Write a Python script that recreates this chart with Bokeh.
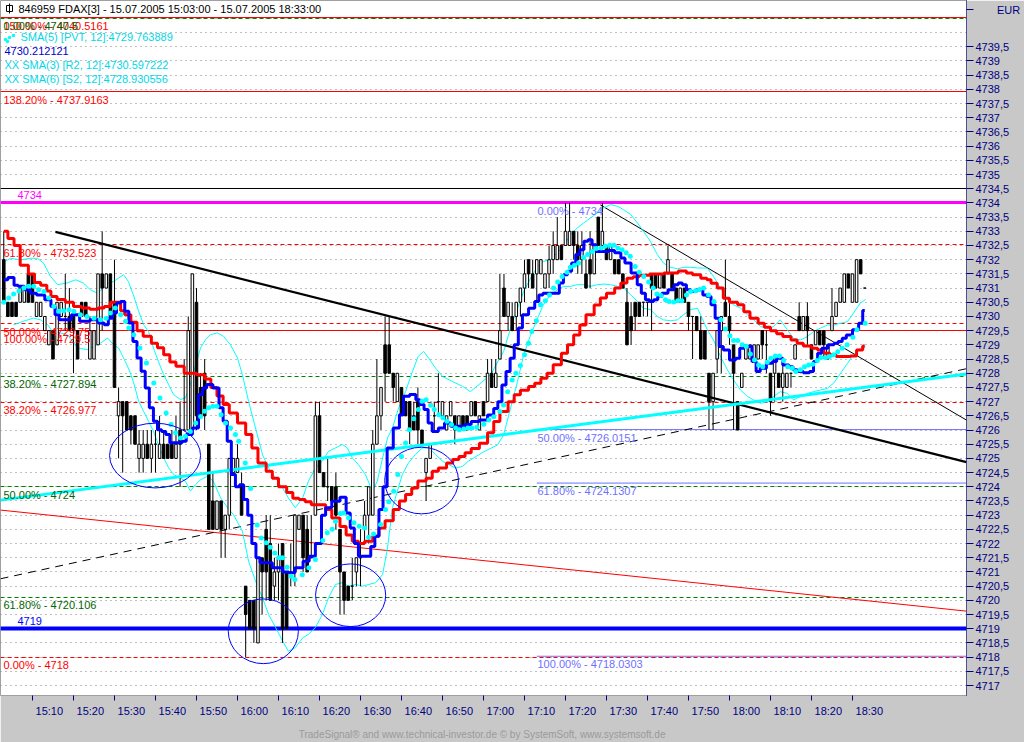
from bokeh.plotting import figure
from bokeh.models import Range1d, FixedTicker
from bokeh.core.properties import value
from bokeh.embed import file_html
from bokeh.resources import INLINE

FONT = value("Liberation Sans")

# ---------------- one-minute FDAX bars, bar 0 = 15:03 ----------------
bar_open = [
    4732, 4730.5, 4730.5, 4730.5, 4730.5, 4730.5, 4731.5, 4731.5, 4730, 4730,
    4729.5, 4729, 4729.5, 4729, 4730, 4730, 4730, 4730, 4729.5, 4730.5,
    4730.5, 4728.5, 4728.5, 4729, 4731.5, 4731, 4731.5, 4730.5, 4726.5, 4727,
    4727, 4726.5, 4726.5, 4725, 4725, 4725.5, 4725, 4725.5, 4725, 4725.5,
    4725.5, 4725.5, 4725, 4726, 4726, 4726, 4726, 4730.5, 4727.5, 4728,
    4725.5, 4723.5, 4722.5, 4723.5, 4722.5, 4723, 4724.5, 4724.5, 4724, 4720.5,
    4720, 4720, 4718.5, 4721.5, 4722.5, 4722, 4720.5, 4721, 4722, 4721,
    4721, 4721, 4722.5, 4723, 4722.5, 4721.5, 4723, 4726.5, 4724.5, 4724,
    4724, 4724, 4722.5, 4721, 4720.5, 4720.5, 4721, 4721.5, 4722.5, 4723,
    4723, 4725.5, 4726.5, 4729, 4729, 4728, 4727, 4727.5, 4727, 4727,
    4726.5, 4727, 4726, 4724.5, 4725, 4726.5, 4727, 4726.5, 4726, 4726.5,
    4726.5, 4726, 4726.5, 4726.5, 4726.5, 4727, 4726, 4727, 4727, 4728,
    4727.5, 4728.5, 4731, 4730, 4730, 4730, 4730.5, 4731, 4732, 4731.5,
    4731.5, 4731.5, 4731, 4731.5, 4732, 4732, 4732.5, 4732.5, 4732.5, 4733,
    4732.5, 4732, 4731.5, 4732, 4731.5, 4733.5, 4732.5, 4732.5, 4732, 4732,
    4732, 4731.5, 4730.5, 4730, 4730.5, 4730.5, 4730.5, 4730.5, 4731.5, 4731.5,
    4731, 4731.5, 4731.5, 4731.5, 4731, 4730.5, 4731, 4730.5, 4730, 4730,
    4729.5, 4729.5, 4728, 4727, 4728.5, 4729.5, 4730.5, 4730, 4729, 4727,
    4727.5, 4728.5, 4728.5, 4728.5, 4728.5, 4729.5, 4729, 4728, 4728, 4728,
    4727.5, 4727.5, 4728, 4728.5, 4730, 4729.5, 4730, 4729, 4729, 4729.5,
    4729.5, 4728.5, 4729.5, 4730, 4730.5, 4730.5, 4731.5, 4730.5, 4730.5, 4732,
    4731,
]
bar_high = [
    4733, 4730.5, 4730.5, 4730.5, 4731, 4731, 4731.5, 4731.5, 4730.5, 4730.5,
    4730, 4729.5, 4729.5, 4730.5, 4730.5, 4731.5, 4731, 4730, 4729.5, 4730.5,
    4730.5, 4730, 4729.5, 4731.5, 4733, 4731.5, 4731.5, 4732, 4727.5, 4727,
    4727, 4726.5, 4726.5, 4726, 4726, 4726, 4726, 4726, 4726.5, 4726,
    4725.5, 4726, 4726.5, 4727, 4728.5, 4730, 4731.5, 4731, 4728, 4728.5,
    4725.5, 4724.5, 4723.5, 4723.5, 4723, 4725, 4725, 4725.5, 4724.5, 4720.5,
    4720, 4720, 4721.5, 4721.5, 4723, 4723, 4721.5, 4722, 4722, 4721,
    4722, 4723, 4723, 4723, 4723, 4723, 4727, 4727, 4724.5, 4725,
    4724, 4724.5, 4722.5, 4721, 4720.5, 4721.5, 4721.5, 4722.5, 4723.5, 4724,
    4726, 4728.5, 4727.5, 4730, 4730, 4728, 4728, 4727.5, 4727, 4727,
    4727, 4727.5, 4726, 4725, 4725.5, 4727, 4728, 4727, 4726.5, 4727,
    4726.5, 4726.5, 4726.5, 4726.5, 4727, 4727, 4726.5, 4727, 4728.5, 4728.5,
    4728.5, 4731.5, 4731.5, 4730.5, 4730.5, 4730.5, 4731, 4732, 4732, 4732,
    4732, 4732, 4731.5, 4732.5, 4733, 4733.5, 4732.5, 4734, 4734, 4733,
    4733, 4733, 4732, 4733, 4732.5, 4733.5, 4734, 4732.5, 4732.5, 4732,
    4732, 4731.5, 4731, 4730.5, 4730.5, 4730.5, 4730.5, 4730.5, 4731.5, 4731.5,
    4731.5, 4731.5, 4732.5, 4731.5, 4731, 4731, 4731, 4730.5, 4730, 4730,
    4730, 4729.5, 4728, 4728, 4729.5, 4730, 4732, 4730.5, 4729, 4727,
    4728, 4729, 4729, 4729, 4729, 4729.5, 4729.5, 4728, 4728.5, 4728,
    4728.5, 4728, 4728, 4729, 4730.5, 4730, 4730.5, 4729, 4729.5, 4729.5,
    4729.5, 4729, 4731, 4730.5, 4731, 4731.5, 4731.5, 4731.5, 4732, 4732,
    4731,
]
bar_low = [
    4730.5, 4730, 4730, 4730, 4730.5, 4730.5, 4730.5, 4730.5, 4730, 4730,
    4729.5, 4729, 4728.5, 4729, 4730, 4729.5, 4729.5, 4728, 4728.5, 4730,
    4730, 4728.5, 4728.5, 4729, 4729.5, 4731, 4730, 4727.5, 4725, 4724.5,
    4726, 4725.5, 4725.5, 4724.5, 4724.5, 4725, 4724.5, 4724.5, 4725, 4725,
    4725, 4725, 4725, 4724, 4726, 4726, 4726, 4726, 4726.5, 4726,
    4722.5, 4722.5, 4722.5, 4721.5, 4721.5, 4722.5, 4724.5, 4724.5, 4723, 4718,
    4719, 4718.5, 4718.5, 4719.5, 4720, 4720, 4720, 4720, 4718.5, 4719,
    4720.5, 4720.5, 4722.5, 4721, 4721, 4721.5, 4723, 4724.5, 4724, 4723.5,
    4723.5, 4722.5, 4719.5, 4719.5, 4720, 4720, 4720.5, 4720.5, 4722, 4722,
    4723, 4725.5, 4726, 4727, 4728, 4727, 4727, 4726.5, 4726.5, 4725.5,
    4726, 4725.5, 4725.5, 4723.5, 4725, 4726, 4726.5, 4726.5, 4726, 4726.5,
    4725.5, 4726, 4726, 4726, 4726.5, 4726.5, 4726, 4726.5, 4727, 4727.5,
    4727.5, 4728.5, 4730, 4729.5, 4729.5, 4729.5, 4730, 4730.5, 4731, 4731,
    4730.5, 4731.5, 4731, 4731, 4731.5, 4732, 4732, 4732.5, 4732.5, 4732,
    4731.5, 4731.5, 4731, 4731, 4731.5, 4732.5, 4732.5, 4732, 4732, 4731.5,
    4731.5, 4731, 4729, 4729, 4729.5, 4730, 4730, 4730, 4729.5, 4731,
    4731, 4731, 4731.5, 4731, 4730.5, 4730.5, 4730.5, 4729.5, 4728.5, 4729.5,
    4728.5, 4728.5, 4726, 4726, 4728, 4728, 4730, 4729, 4726, 4726,
    4727.5, 4728.5, 4728.5, 4728.5, 4728.5, 4728.5, 4728, 4726.5, 4727, 4727.5,
    4727, 4727.5, 4727.5, 4728.5, 4729.5, 4729.5, 4729, 4728.5, 4729, 4729,
    4728.5, 4728.5, 4729.5, 4730, 4730.5, 4730.5, 4731, 4730.5, 4730.5, 4731.5,
    4731,
]
bar_close = [
    4730.5, 4730, 4730, 4730, 4731, 4731, 4730.5, 4730.5, 4730.5, 4730.5,
    4730, 4729.5, 4728.5, 4730.5, 4730.5, 4730, 4729.5, 4729.5, 4728.5, 4730,
    4730, 4729.5, 4729.5, 4731.5, 4731, 4731.5, 4730, 4727.5, 4727, 4726.5,
    4726, 4726, 4725.5, 4725.5, 4725.5, 4725, 4725.5, 4725.5, 4725.5, 4725,
    4725, 4725, 4725.5, 4725.5, 4726, 4729.5, 4731.5, 4726.5, 4726.5, 4726.5,
    4722.5, 4722.5, 4723.5, 4722.5, 4723, 4725, 4725, 4725, 4723, 4719.5,
    4719, 4719, 4721.5, 4721, 4721, 4720, 4721, 4721.5, 4719, 4719,
    4721, 4723, 4723, 4721.5, 4721, 4721.5, 4726.5, 4724.5, 4724, 4724,
    4723.5, 4723, 4721, 4720, 4720, 4720.5, 4721.5, 4721.5, 4723, 4724,
    4725.5, 4726.5, 4727.5, 4728, 4728, 4727.5, 4728, 4726.5, 4726.5, 4726,
    4726, 4726, 4725.5, 4725, 4725.5, 4726.5, 4727, 4727, 4726.5, 4727,
    4726, 4726.5, 4726, 4726, 4727, 4726.5, 4726.5, 4726.5, 4728, 4727.5,
    4728, 4729.5, 4730, 4730.5, 4729.5, 4730.5, 4731, 4731.5, 4731.5, 4731,
    4732, 4732, 4731.5, 4732, 4732.5, 4732.5, 4732, 4733, 4733, 4732.5,
    4732, 4732.5, 4731, 4731.5, 4732.5, 4732.5, 4733, 4732, 4732.5, 4731.5,
    4731.5, 4731, 4729, 4729.5, 4730, 4730, 4730.5, 4730.5, 4731, 4731,
    4731.5, 4731, 4732, 4731, 4730.5, 4731, 4730.5, 4730, 4730, 4729.5,
    4728.5, 4728.5, 4727, 4728, 4729.5, 4730, 4730, 4729.5, 4728, 4726,
    4728, 4729, 4729, 4729, 4729, 4729, 4729, 4727, 4728.5, 4727.5,
    4728, 4728, 4728, 4729, 4729.5, 4730, 4729.5, 4728.5, 4729.5, 4729,
    4729, 4729, 4730, 4730.5, 4731, 4731.5, 4731, 4731.5, 4732, 4731.5,
    4731,
]

# ---------------- indicators (bar position, price) ----------------
ma_red_x = [0, 2, 3, 5, 7, 8, 10, 11, 12, 14, 16, 18, 20, 22, 24, 25, 27, 28, 29, 30,
            32, 33, 35, 37, 38, 40, 41, 43, 45, 46, 48, 50, 51, 53, 54, 56, 58, 60, 61, 63,
            65, 66, 68, 70, 71, 73, 74, 76, 78, 79, 81, 83, 84, 86, 87, 89, 91, 92, 94, 96,
            97, 99, 100, 102, 104, 105, 107, 109, 110, 112, 113, 115, 117, 119, 120, 122, 124, 125, 127, 129,
            130, 132, 133, 135, 137, 138, 140, 141, 143, 145, 146, 148, 150, 151, 153, 154, 156, 159, 163, 166,
            167, 169, 171, 172, 173, 175, 176, 178, 180, 181, 183, 185, 186, 188, 189, 191, 193, 194, 196, 198,
            199, 201, 202, 204, 206, 207, 209, 210]
ma_red_y = [4733.0, 4732.75, 4732.5, 4731.8, 4731.5, 4731.2, 4731.1, 4730.9, 4730.7, 4730.6,
            4730.5, 4730.35, 4730.3, 4730.25, 4730.3, 4730.35, 4730.5, 4730.5, 4730.2, 4730.06,
            4729.8, 4729.5, 4729.3, 4729.06, 4728.9, 4728.65, 4728.4, 4728.25, 4728.0, 4728.0,
            4727.95, 4727.8, 4727.5, 4727.2, 4726.9, 4726.6, 4726.25, 4725.84, 4725.37, 4724.84,
            4724.55, 4724.3, 4724.0, 4723.8, 4723.6, 4723.55, 4723.47, 4723.37, 4723.37, 4723.2,
            4722.9, 4722.6, 4722.3, 4722.08, 4722.0, 4722.08, 4722.26, 4722.55, 4722.8, 4723.2,
            4723.5, 4723.73, 4723.96, 4724.2, 4724.3, 4724.55, 4724.66, 4724.84, 4724.96, 4725.07,
            4725.2, 4725.35, 4725.53, 4725.9, 4726.3, 4726.65, 4727.0, 4727.24, 4727.4, 4727.53,
            4727.65, 4727.82, 4728.0, 4728.3, 4728.7, 4729.0, 4729.35, 4729.7, 4730.06, 4730.4,
            4730.65, 4730.82, 4731.0, 4731.18, 4731.35, 4731.4, 4731.45, 4731.5, 4731.53, 4731.6,
            4731.53, 4731.47, 4731.35, 4731.29, 4731.17, 4731.0, 4730.64, 4730.5, 4730.41, 4730.17,
            4729.94, 4729.76, 4729.62, 4729.5, 4729.39, 4729.29, 4729.17, 4729.06, 4728.96, 4728.88,
            4728.82, 4728.7, 4728.65, 4728.59, 4728.59, 4728.61, 4728.82, 4728.96]

ma_blue_x = [0, 2, 3, 4, 6, 7, 9, 11, 12, 13, 14, 16, 17, 18, 19, 20, 22, 24, 25, 26,
             27, 28, 29, 30, 31, 32, 33, 34, 35, 36, 37, 38, 39, 40, 41, 43, 44, 45, 47, 48,
             49, 50, 52, 53, 54, 55, 56, 57, 58, 59, 60, 61, 62, 63, 65, 66, 67, 69, 70, 72,
             74, 75, 77, 78, 79, 81, 83, 84, 85, 86, 87, 89, 90, 91, 92, 93, 94, 96, 97, 98,
             100, 101, 102, 103, 104, 105, 107, 108, 110, 112, 113, 115, 117, 119, 120, 121, 122, 123, 124, 125,
             126, 127, 129, 130, 131, 132, 135, 136, 137, 138, 139, 140, 141, 142, 143, 144, 145, 147, 148, 150,
             151, 152, 154, 155, 156, 157, 158, 159, 160, 161, 163, 164, 165, 166, 167, 168, 170, 171, 172, 173,
             174, 175, 176, 178, 179, 180, 181, 182, 183, 184, 185, 187, 188, 189, 191, 192, 193, 194, 196, 197,
             198, 199, 200, 202, 203, 204, 205, 206, 208, 209, 210]
ma_blue_y = [4731.29, 4731.37, 4731.1, 4731.06, 4730.94, 4730.82, 4730.76, 4730.59, 4730.35, 4730.06,
             4729.88, 4729.88, 4730.06, 4730.06, 4729.83, 4729.83, 4729.88, 4729.77, 4729.71, 4729.94,
             4730.12, 4730.47, 4730.53, 4730.18, 4729.77, 4729.12, 4728.54, 4728.07, 4727.48, 4726.78,
             4726.31, 4726.01, 4725.95, 4725.84, 4725.55, 4725.55, 4725.6, 4725.84, 4726.07, 4727.25,
             4727.48, 4727.6, 4727.48, 4726.78, 4726.31, 4725.6, 4724.43, 4724.0, 4724.07, 4723.55,
             4723.0, 4722.0, 4721.5, 4721.32, 4721.32, 4721.15, 4721.15, 4721.0, 4720.97, 4721.15,
             4721.38, 4721.55, 4722.0, 4723.0, 4723.26, 4723.49, 4723.63, 4723.08, 4722.55, 4722.0,
             4721.55, 4721.55, 4721.9, 4722.26, 4723.2, 4724.0, 4725.37, 4726.07, 4726.54, 4727.19,
             4727.25, 4727.07, 4726.9, 4726.72, 4726.25, 4725.95, 4726.07, 4726.25, 4726.13, 4726.13,
             4726.19, 4726.3, 4726.35, 4726.53, 4726.76, 4727.0, 4727.59, 4728.06, 4728.53, 4729.0,
             4729.59, 4730.06, 4730.29, 4730.53, 4730.76, 4730.82, 4730.82, 4731.18, 4731.47, 4731.59,
             4731.88, 4732.18, 4732.35, 4732.65, 4732.7, 4732.53, 4732.29, 4732.29, 4732.32, 4732.24,
             4732.06, 4731.88, 4731.53, 4731.12, 4730.82, 4730.59, 4730.53, 4730.59, 4730.7, 4730.82,
             4730.94, 4731.12, 4731.18, 4731.12, 4730.94, 4730.88, 4730.94, 4730.76, 4730.7, 4730.41,
             4729.94, 4728.94, 4728.82, 4728.47, 4728.53, 4728.88, 4728.94, 4728.94, 4728.41, 4728.06,
             4728.18, 4728.35, 4728.41, 4728.53, 4728.29, 4728.23, 4728.12, 4728.06, 4728.02, 4728.06,
             4728.41, 4728.7, 4728.88, 4729.0, 4729.06, 4729.12, 4729.23, 4729.35, 4729.53, 4729.76,
             4730.21]

# SMA(5) [PVT, 12] dots
pvt_x = [0.0, 1.2, 2.4, 3.7, 4.9, 6.1, 7.3, 8.5, 9.8, 11.0, 12.2, 13.4, 14.6, 15.9, 17.1, 18.7, 20.3, 22.0, 23.6, 25.0,
         26.0, 27.2, 28.5, 29.7, 30.5, 31.7, 33.2, 34.8, 36.6, 38.1, 39.6, 40.8, 41.9, 43.1, 44.3, 45.5, 46.8, 48.0, 49.0, 50.0,
         51.0, 52.0, 53.0, 54.1, 55.3, 56.5, 57.3, 58.9, 60.2, 61.8, 62.8, 64.0, 65.0, 66.1, 67.1, 68.0, 69.1, 70.1, 71.0, 72.8,
         74.4, 76.0, 77.8, 78.9, 80.1, 80.9, 82.1, 82.9, 84.1, 85.4, 86.7, 88.0, 89.0, 90.2, 91.9, 93.1, 93.9, 95.1, 96.1, 97.0,
         98.0, 98.9, 100.0, 101.1, 102.0, 103.0, 104.1, 105.0, 106.1, 107.1, 108.1, 109.2, 110.2, 111.1, 112.2, 113.2, 114.2, 115.4, 117.1, 118.3,
         119.5, 121.0, 121.9, 122.9, 124.0, 124.9, 126.0, 127.0, 128.0, 128.8, 129.9, 130.9, 132.1, 133.1, 134.1, 135.1, 136.2, 137.4, 138.2, 139.2,
         140.2, 141.4, 142.4, 143.5, 144.5, 145.7, 146.7, 147.8, 148.8, 149.8, 150.8, 151.8, 152.8, 154.0, 155.0, 156.1, 157.3, 158.4, 159.3, 160.3,
         161.4, 162.3, 163.4, 164.4, 165.4, 166.5, 167.5, 168.7, 169.7, 170.7, 171.9, 173.2, 174.9, 176.0, 177.1, 178.0, 179.0, 180.1, 181.1, 182.1,
         183.1, 184.1, 185.1, 186.2, 187.1, 188.2, 189.2, 190.2, 191.2, 192.3, 193.2, 194.3, 195.3, 196.3, 197.3, 198.4, 199.3, 200.4, 201.4, 202.4,
         203.4, 204.5, 205.7, 207.1, 208.1, 210.1]
pvt_y = [4730.5, 4730.65, 4730.79, 4730.9, 4731.0, 4731.06, 4731.06, 4730.94, 4730.88, 4730.65, 4730.35, 4730.18, 4730.2, 4730.24, 4730.18, 4730.06, 4730.0, 4729.94, 4729.88, 4729.94,
         4730.12, 4730.3, 4730.06, 4729.83, 4729.59, 4729.36, 4728.89, 4728.36, 4727.66, 4727.13, 4726.6, 4726.19, 4725.9, 4725.72, 4725.78, 4725.95, 4726.25, 4726.48, 4726.66, 4726.78,
         4726.84, 4726.84, 4726.54, 4726.25, 4726.07, 4725.84, 4725.6, 4724.84, 4723.94, 4722.65, 4722.2, 4722.03, 4721.87, 4721.67, 4721.5, 4721.5, 4721.17, 4720.85, 4720.73, 4720.9,
         4721.15, 4721.44, 4722.11, 4722.38, 4722.5, 4722.79, 4723.06, 4723.08, 4722.91, 4722.73, 4722.61, 4722.55, 4722.22, 4722.34, 4722.67, 4723.2, 4723.47, 4723.84, 4724.43, 4725.07,
         4725.54, 4726.01, 4726.4, 4726.72, 4727.01, 4727.07, 4726.87, 4726.72, 4726.54, 4726.43, 4726.31, 4726.19, 4726.07, 4726.01, 4726.04, 4726.07, 4726.07, 4726.1, 4726.2, 4726.35,
         4726.47, 4726.65, 4726.88, 4727.35, 4727.76, 4728.0, 4728.27, 4728.65, 4729.06, 4729.47, 4729.85, 4730.41, 4730.55, 4730.76, 4731.0, 4731.21, 4731.41, 4731.56, 4731.73, 4731.8,
         4731.88, 4732.08, 4732.18, 4732.29, 4732.39, 4732.41, 4732.47, 4732.51, 4732.51, 4732.41, 4732.35, 4732.24, 4732.12, 4731.76, 4731.56, 4731.41, 4731.21, 4731.0, 4730.79, 4730.74,
         4730.59, 4730.53, 4730.51, 4730.55, 4730.55, 4730.76, 4730.88, 4730.91, 4730.95, 4731.0, 4730.76, 4730.53, 4729.88, 4729.56, 4729.32, 4729.15, 4729.15, 4729.0, 4728.94, 4728.68,
         4728.47, 4728.29, 4728.23, 4728.39, 4728.53, 4728.61, 4728.61, 4728.45, 4728.23, 4728.18, 4728.06, 4728.12, 4728.23, 4728.29, 4728.32, 4728.45, 4728.55, 4728.55, 4728.59, 4728.65,
         4728.76, 4728.88, 4729.0, 4729.27, 4729.53, 4729.76]

# SMA(3) [R2, 12] upper band
r2_x = [0.4, 1.6, 4.1, 6.5, 8.2, 9.7, 11.4, 13.1, 15.5, 17.5, 19.4, 21.1, 22.9, 24.3, 25.5, 26.8, 28.0, 29.2, 30.4, 31.6,
        32.9, 34.1, 35.3, 36.5, 37.7, 39.0, 40.2, 41.4, 43.1, 44.3, 45.5, 46.8, 48.0, 49.2, 50.4, 52.1, 53.6, 55.3, 57.0, 58.2,
        59.7, 61.4, 63.1, 64.6, 66.3, 68.0, 69.4, 71.1, 72.9, 74.3, 76.0, 77.7, 79.2, 80.9, 82.6, 83.8, 85.0, 86.5, 88.2, 89.9,
        91.1, 92.4, 93.6, 94.8, 96.3, 98.0, 99.7, 101.1, 102.4, 103.6, 105.3, 107.0, 109.4, 111.9, 113.8, 118.7, 121.9, 123.6, 125.3, 126.8,
        128.5, 130.2, 131.6, 133.3, 135.0, 136.5, 138.2, 139.9, 141.4, 143.1, 144.8, 146.3, 148.0, 149.7, 151.2, 152.9, 154.6, 156.0, 157.7, 159.4,
        160.9, 162.6, 164.3, 165.8, 167.5, 169.2, 171.6, 173.1, 174.8, 176.5, 178.0, 179.7, 181.4, 182.9, 184.6, 186.3, 187.7, 189.4, 191.1, 192.6,
        194.3, 196.0, 197.5, 199.2, 200.9, 202.4, 204.1, 205.8, 207.2, 208.9, 210.2]
r2_y = [4731.94, 4732.05, 4731.99, 4732.05, 4732.05, 4731.88, 4731.41, 4731.12, 4731.18, 4731.29, 4731.18, 4730.94, 4730.82, 4731.0, 4731.18, 4731.23, 4731.35, 4731.47, 4731.23, 4730.76,
        4730.18, 4729.71, 4729.47, 4728.89, 4728.42, 4727.95, 4727.6, 4727.25, 4727.07, 4727.13, 4727.6, 4728.3, 4728.89, 4729.18, 4729.36, 4729.42, 4729.3, 4729.0, 4728.54, 4727.95,
        4727.01, 4726.07, 4725.13, 4724.66, 4724.31, 4723.96, 4723.61, 4723.26, 4723.61, 4724.2, 4724.66, 4724.9, 4725.25, 4725.37, 4725.49, 4725.37, 4725.02, 4724.78, 4724.43, 4723.85,
        4724.2, 4725.02, 4725.72, 4726.07, 4726.78, 4727.36, 4728.07, 4728.6, 4728.77, 4728.54, 4728.18, 4727.89, 4727.71, 4727.54, 4727.35, 4727.94, 4728.76, 4729.59, 4730.29, 4730.88,
        4731.35, 4731.76, 4731.94, 4732.0, 4732.24, 4732.47, 4732.88, 4733.12, 4733.29, 4733.47, 4733.65, 4733.82, 4733.94, 4733.88, 4733.76, 4733.59, 4733.29, 4733.0, 4732.65, 4732.18,
        4731.88, 4731.73, 4731.68, 4731.73, 4731.73, 4731.71, 4731.7, 4731.41, 4731.0, 4730.58, 4730.41, 4730.29, 4730.06, 4729.88, 4729.64, 4729.59, 4729.64, 4729.88, 4729.53, 4729.23,
        4729.17, 4729.29, 4729.47, 4729.59, 4729.7, 4729.7, 4729.76, 4729.82, 4730.11, 4730.47, 4730.6]

# SMA(6) [S2, 12] lower band
s2_x = [2.4, 4.8, 7.2, 9.0, 10.7, 12.1, 13.8, 15.5, 18.0, 20.4, 21.9, 23.6, 25.3, 26.8, 28.0, 29.2, 30.4, 31.6, 32.9, 34.1,
        35.3, 36.5, 37.7, 39.0, 40.2, 41.4, 43.1, 44.3, 45.5, 46.8, 48.0, 49.7, 51.1, 52.9, 54.6, 56.0, 58.2, 59.7, 61.4, 63.1,
        64.6, 66.3, 68.0, 69.4, 71.1, 72.9, 74.3, 76.0, 77.7, 79.2, 80.9, 82.6, 84.1, 85.8, 87.5, 89.0, 90.7, 92.4, 93.6, 94.8,
        96.0, 97.2, 98.7, 100.4, 102.1, 103.6, 105.3, 107.0, 108.5, 110.2, 111.9, 113.3, 117.0, 120.4, 121.9, 123.6, 125.3, 126.8, 128.5, 130.2,
        131.6, 133.3, 135.0, 136.5, 138.2, 139.9, 141.4, 143.1, 144.8, 146.3, 148.0, 149.7, 151.2, 152.9, 154.6, 156.0, 157.7, 159.4, 160.9, 162.6,
        164.3, 165.8, 167.5, 169.2, 171.6, 173.1, 174.8, 176.5, 178.0, 179.7, 181.4, 182.9, 184.6, 186.3, 187.7, 189.4, 191.1, 192.6, 194.3, 196.0,
        197.5, 199.2, 200.9, 202.4, 204.1, 205.8, 207.2, 208.9, 210.2]
s2_y = [4729.71, 4729.83, 4729.94, 4729.88, 4729.71, 4729.42, 4729.42, 4729.36, 4728.89, 4728.83, 4728.95, 4729.06, 4729.24, 4729.0, 4728.89, 4728.54, 4728.18, 4727.71, 4727.01, 4726.66,
        4726.31, 4725.96, 4725.49, 4725.02, 4724.67, 4724.43, 4724.31, 4724.2, 4723.85, 4724.08, 4724.25, 4724.37, 4724.2, 4723.61, 4723.26, 4723.02, 4722.44, 4721.38, 4720.68, 4720.09,
        4719.5, 4719.04, 4718.57, 4718.21, 4718.33, 4718.68, 4718.8, 4719.04, 4719.5, 4720.09, 4720.56, 4720.62, 4720.5, 4720.56, 4720.5, 4720.56, 4720.62, 4720.91, 4721.85, 4723.26,
        4723.85, 4724.43, 4724.84, 4725.14, 4725.37, 4725.37, 4725.14, 4724.9, 4724.78, 4724.66, 4724.72, 4724.9, 4725.23, 4725.47, 4725.82, 4726.77, 4727.71, 4728.65, 4729.35, 4729.94,
        4730.41, 4730.76, 4730.94, 4731.06, 4731.06, 4731.12, 4731.12, 4731.06, 4731.12, 4731.14, 4731.12, 4731.06, 4731.0, 4730.76, 4730.53, 4730.29, 4730.24, 4730.0, 4729.88, 4729.85,
        4729.88, 4730.06, 4730.24, 4730.29, 4729.53, 4729.17, 4728.59, 4728.12, 4727.76, 4727.41, 4727.18, 4727.06, 4726.94, 4727.0, 4727.18, 4727.35, 4727.29, 4727.06, 4727.18, 4727.29,
        4727.35, 4727.41, 4727.47, 4727.65, 4728.0, 4728.35, 4728.65, 4728.88, 4728.93]

# ---------------- drawn trend lines (bar position, price) ----------------
falling_x = [12.6, 234.8]
falling_y = [4732.98, 4724.87]
falling_thin_x = [145.5, 234.8]
falling_thin_y = [4733.93, 4726.35]
rising_dash_x = [-0.8, 234.8]
rising_dash_y = [4720.76, 4728.16]
rising_cyan_x = [-0.8, 234.8]
rising_cyan_y = [4723.53, 4727.97]
falling_red_x = [-0.8, 234.8]
falling_red_y = [4723.18, 4719.62]

# marked zones (centre bar, centre price, width in bars, height in points)
zone_x = [36.9, 63.3, 84.6, 101.9]
zone_y = [4725.1, 4718.91, 4720.18, 4724.22]
zone_w = [22.2, 17.1, 17.1, 18.0]
zone_h = [2.28, 2.28, 2.21, 2.35]

# ---------------- horizontal levels ----------------
red_solid_levels = [4740.5161, 4737.9163, 4729.5]
red_solid_labels = ["150.00% - 4740.5161", "138.20% - 4737.9163", "100.00% - 4729.5"]
red_dash_levels = [4732.523, 4729.75, 4726.977, 4718.0]
red_labels = ["61.80% - 4732.523", "50.00% - 4729.75", "38.20% - 4726.977", "0.00% - 4718"]
green_levels = [4740.5, 4727.894, 4724.0, 4720.106]
green_labels = ["0.00% - 4740.5", "38.20% - 4727.894", "50.00% - 4724", "61.80% - 4720.106"]
fib_right_start = 130.0
fib_right_levels = [4734.0, 4726.0151, 4724.1307, 4718.0303]
fib_right_labels = ["0.00% - 4734", "50.00% - 4726.0151", "61.80% - 4724.1307", "100.00% - 4718.0303"]
black_level = 4734.5
magenta_level = 4734.0
blue_level = 4719.0

# ---------------- axes ----------------
price_ticks = [4717 + 0.5 * k for k in range(46)]
grid_ticks = [4717 + 0.5 * k for k in range(48)]
currency_tick = 4740.8
time_labels = ["15:10", "15:20", "15:30", "15:40", "15:50", "16:00", "16:10", "16:20", "16:30",
               "16:40", "16:50", "17:00", "17:10", "17:20", "17:30", "17:40", "17:50", "18:00",
               "18:10", "18:20", "18:30"]
first_bar_minute = 15 * 60 + 3
time_ticks = [int(t[:2]) * 60 + int(t[3:]) - first_bar_minute for t in time_labels]

# ---------------- layout ----------------
PX_PER_BAR = 4.1
PX_PER_PT = 28.47
FRAME_W, FRAME_H = 966, 697
X_LO = -0.8
X_HI = X_LO + FRAME_W / PX_PER_BAR
Y_HI = 4741.13
Y_LO = Y_HI - FRAME_H / PX_PER_PT


def px_x(px):
    return X_LO + px / PX_PER_BAR


def px_y(py):
    return Y_HI - py / PX_PER_PT


PANEL = "#c8c8c8"
NAVY = "#000080"
RED = "#ff0000"
GREEN = "#006400"
CYAN = "#00ffff"
CYAN_TXT = "#00d8e8"
LAV = "#6f6fff"
NBSP = "\u00a0"

p = figure(width=1024, height=742, x_range=Range1d(X_LO, X_HI), y_range=Range1d(Y_LO, Y_HI),
           output_backend="svg", toolbar_location=None, y_axis_location="right",
           min_border_left=0, min_border_top=0, min_border_right=58, min_border_bottom=45,
           background_fill_color="white", border_fill_color=PANEL)
p.outline_line_color = "#a0a0a0"

# grid
p.xgrid.visible = False
p.ygrid.ticker = FixedTicker(ticks=grid_ticks)
p.ygrid.grid_line_color = "#808080"
p.ygrid.grid_line_dash = "1 4"
p.ygrid.grid_line_width = 1

# price axis on the right, currency shown at its top
price_labels = {t: (str(int(t)) if t == int(t) else str(int(t)) + ",5") for t in price_ticks}
price_labels[currency_tick] = NBSP * 7 + "EUR"
p.yaxis.ticker = FixedTicker(ticks=price_ticks + [currency_tick])
p.yaxis.major_label_overrides = price_labels
p.yaxis.major_label_text_color = NAVY
p.yaxis.major_label_text_font = "Liberation Sans"
p.yaxis.major_label_text_font_size = "11px"
p.yaxis.axis_line_color = NAVY
p.yaxis.axis_line_dash = "1 1"
p.yaxis.major_tick_in = 0
p.yaxis.major_tick_out = 7
p.yaxis.major_tick_line_color = NAVY
p.yaxis.minor_tick_line_color = None
p.yaxis.major_label_standoff = 2

# time axis below
p.xaxis.ticker = FixedTicker(ticks=time_ticks)
p.xaxis.major_label_overrides = {t: NBSP * 11 + lab for t, lab in zip(time_ticks, time_labels)}
p.xaxis.major_label_text_color = NAVY
p.xaxis.major_label_text_font = "Liberation Sans"
p.xaxis.major_label_text_font_size = "11px"
p.xaxis.axis_line_color = "#a0a0a0"
p.xaxis.major_tick_in = 0
p.xaxis.major_tick_out = 5
p.xaxis.major_tick_line_color = NAVY
p.xaxis.minor_tick_line_color = None
p.xaxis.major_label_standoff = 4
p.xaxis.axis_label = "TradeSignal\u00ae and www.technical-investor.de \u00a9 by  SystemSoft, www.systemsoft.de"
p.xaxis.axis_label_text_font = "Liberation Sans"
p.xaxis.axis_label_text_font_size = "10px"
p.xaxis.axis_label_text_font_style = "normal"
p.xaxis.axis_label_text_color = "#9a9a9a"
p.xaxis.axis_label_standoff = 9

# ---------------- horizontal levels ----------------
p.hspan(y=red_solid_levels, line_color=RED, line_width=1)
p.hspan(y=red_dash_levels, line_color=RED, line_width=1, line_dash="4 3")
p.hspan(y=green_levels, line_color="#008000", line_width=1, line_dash="4 3")
p.hspan(y=[black_level], line_color="black", line_width=1)
p.segment(x0=[fib_right_start] * 4, x1=[X_HI] * 4, y0=fib_right_levels, y1=fib_right_levels,
          line_color=LAV, line_width=1)
p.hspan(y=[magenta_level], line_color="#ff00ff", line_width=3)
p.hspan(y=[blue_level], line_color="#0000ff", line_width=4)

# ---------------- trend lines ----------------
p.line(falling_red_x, falling_red_y, line_color=RED, line_width=1)
p.line(rising_dash_x, rising_dash_y, line_color="black", line_width=1, line_dash="8 6")
p.line(falling_thin_x, falling_thin_y, line_color="black", line_width=1)

# ---------------- bands ----------------
p.line(r2_x, r2_y, line_color=CYAN, line_width=1)
p.line(s2_x, s2_y, line_color=CYAN, line_width=1)

# ---------------- candles ----------------
n = len(bar_open)
idx = list(range(n))
p.segment(x0=idx, x1=idx, y0=bar_low, y1=bar_high, line_color="black", line_width=1)
up = [i for i in idx if bar_close[i] >= bar_open[i]]
dn = [i for i in idx if bar_close[i] < bar_open[i]]
p.vbar(x=up, width=0.62, bottom=[bar_open[i] for i in up], top=[bar_close[i] for i in up],
       fill_color="white", line_color="black", line_width=1)
p.vbar(x=dn, width=0.62, bottom=[bar_close[i] for i in dn], top=[bar_open[i] for i in dn],
       fill_color="black", line_color="black", line_width=1)

p.line(falling_x, falling_y, line_color="black", line_width=2.2)
p.line(rising_cyan_x, rising_cyan_y, line_color=CYAN, line_width=3)

# ---------------- moving averages ----------------
p.step(ma_red_x, ma_red_y, mode="center", line_color=RED, line_width=3)
p.step(ma_blue_x, ma_blue_y, mode="center", line_color="#0000ff", line_width=3)
p.scatter(pvt_x, pvt_y, size=5, fill_color=CYAN, line_color=None)

p.ellipse(x=zone_x, y=zone_y, width=zone_w, height=zone_h, fill_color=None,
          line_color="#0000ff", line_width=1)

# ---------------- level labels ----------------
TXT = dict(text_font=FONT, text_font_size="11px", text_baseline="middle", text_align="left")
lx = px_x(3)
p.text(x=[lx] * len(red_dash_levels), y=red_dash_levels, text=red_labels, y_offset=8,
       text_color=RED, **TXT)
p.text(x=[lx] * len(red_solid_levels), y=red_solid_levels, text=red_solid_labels, y_offset=8,
       text_color=RED, **TXT)
p.text(x=[lx] * len(green_levels), y=green_levels, text=green_labels, y_offset=8,
       text_color=GREEN, **TXT)
p.text(x=[px_x(537)] * 4, y=fib_right_levels, text=fib_right_labels, y_offset=8,
       text_color=LAV, **TXT)
p.text(x=[px_x(17)], y=[magenta_level], text=["4734"], y_offset=-8, text_color="#ff00ff", **TXT)
p.text(x=[px_x(17)], y=[blue_level], text=["4719"], y_offset=-8, text_color="#0000ff", **TXT)

# ---------------- header and indicator readouts ----------------
p.quad(left=[px_x(6)], right=[px_x(12)], bottom=[px_y(11)], top=[px_y(5)],
       fill_color="white", line_color="black", line_width=1)
p.segment(x0=[px_x(9)], x1=[px_x(9)], y0=[px_y(13)], y1=[px_y(3)], line_color="black", line_width=1)
p.text(x=[px_x(18)], y=[px_y(9)], text=["846959  FDAX[3] - 15.07.2005 15:03:00 - 15.07.2005 18:33:00"],
       text_color="black", **TXT)
p.text(x=[px_x(20)], y=[px_y(37)], text=["SMA(5) [PVT, 12]:4729.763889"], text_color=CYAN_TXT, **TXT)
p.scatter([px_x(5), px_x(9), px_x(13), px_x(7)], [px_y(39), px_y(37), px_y(35), px_y(41)],
          size=3.5, fill_color=CYAN, line_color=None)
p.text(x=[px_x(4)], y=[px_y(51)], text=["4730.212121"], text_color="#0000cc", **TXT)
p.text(x=[px_x(4)] * 2, y=[px_y(65), px_y(79)],
       text=["XX SMA(3) [R2, 12]:4730.597222", "XX SMA(6) [S2, 12]:4728.930556"],
       text_color=CYAN_TXT, **TXT)

open("out.html", "w").write(file_html(p, INLINE))
